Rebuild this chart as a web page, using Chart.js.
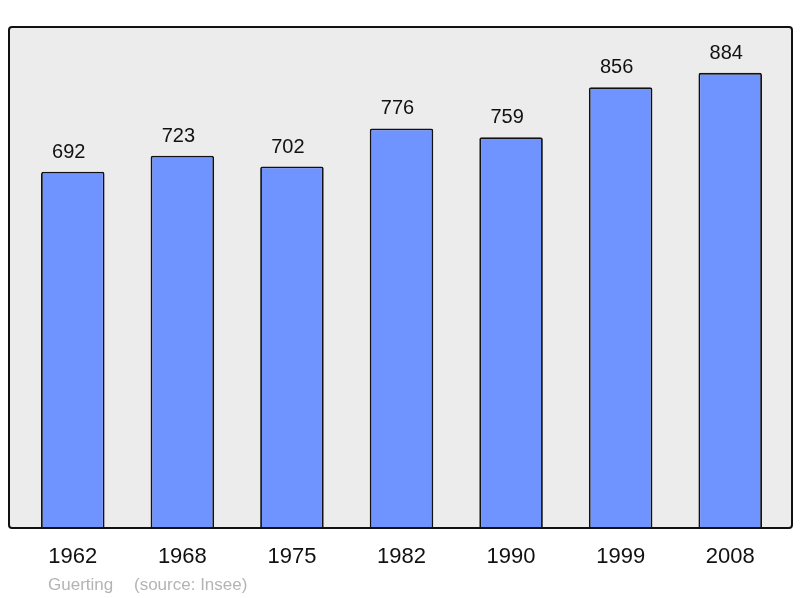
<!DOCTYPE html>
<html>
<head>
<meta charset="utf-8">
<script src="https://cdn.jsdelivr.net/npm/chart.js@4/dist/chart.umd.min.js"></script>
<style>
  html, body { margin: 0; padding: 0; background: #fff; }
  #wrap { width: 800px; height: 598px; }
</style>
</head>
<body>
<div id="wrap"><canvas id="popChart" width="800" height="598"></canvas></div>
<script>
// population data
const years = ['1962', '1968', '1975', '1982', '1990', '1999', '2008'];
const population = [692, 723, 702, 776, 759, 856, 884];
const footerName = 'Guerting';
const footerSource = '(source: Insee)';

// panel background + border behind the bars
const panelPlugin = {
    id: 'panel',
    beforeDatasetsDraw(chart) {
        const { ctx, chartArea } = chart;
        const x = chartArea.left - 9, y = chartArea.top, w = chartArea.right - chartArea.left + 16, h = chartArea.bottom - chartArea.top;
        ctx.save();
        ctx.beginPath();
        ctx.roundRect(x, y, w, h, 3);
        ctx.fillStyle = '#ececec';
        ctx.fill();
        ctx.restore();
    },
    afterDatasetsDraw(chart) {
        const { ctx, chartArea } = chart;
        const x = chartArea.left - 9, y = chartArea.top, w = chartArea.right - chartArea.left + 16, h = chartArea.bottom - chartArea.top;
        ctx.save();
        ctx.beginPath();
        ctx.roundRect(x, y, w, h, 3);
        ctx.lineWidth = 2;
        ctx.strokeStyle = '#111';
        ctx.stroke();

        // value labels (sit a little left of bar centre in the original)
        const meta = chart.getDatasetMeta(0);
        ctx.fillStyle = '#111';
        ctx.font = '20px "Liberation Sans", Arial, sans-serif';
        ctx.textAlign = 'center';
        ctx.textBaseline = 'alphabetic';
        meta.data.forEach((bar, i) => {
            ctx.fillText(population[i], bar.x - 4, bar.y - 14);
        });

        // footer
        ctx.fillStyle = '#b4b4b4';
        ctx.font = '17px "Liberation Sans", Arial, sans-serif';
        ctx.textAlign = 'left';
        ctx.fillText(footerName, 48, 590);
        ctx.fillText(footerSource, 134, 590);
        ctx.restore();
    }
};

new Chart(document.getElementById('popChart'), {
    type: 'bar',
    data: {
        labels: years,
        datasets: [{
            data: population,
            backgroundColor: '#7094ff',
            borderColor: '#111',
            borderWidth: 1.8,
            borderRadius: 2,
            borderSkipped: 'bottom',
            barPercentage: 0.58,
            categoryPercentage: 1
        }]
    },
    options: {
        responsive: false,
        animation: false,
        layout: { padding: { left: 18, right: 15, top: 27, bottom: 0 } },
        plugins: {
            legend: { display: false },
            tooltip: { enabled: false }
        },
        scales: {
            x: {
                grid: { display: false, drawTicks: false },
                border: { display: false },
                ticks: {
                    color: '#111',
                    font: { size: 22, family: '"Liberation Sans", Arial, sans-serif' },
                    padding: 16
                },
                afterFit(scale) { scale.height = 70; }
            },
            y: {
                display: false,
                min: 0,
                max: 973
            }
        }
    },
    plugins: [panelPlugin]
});
</script>
</body>
</html>
